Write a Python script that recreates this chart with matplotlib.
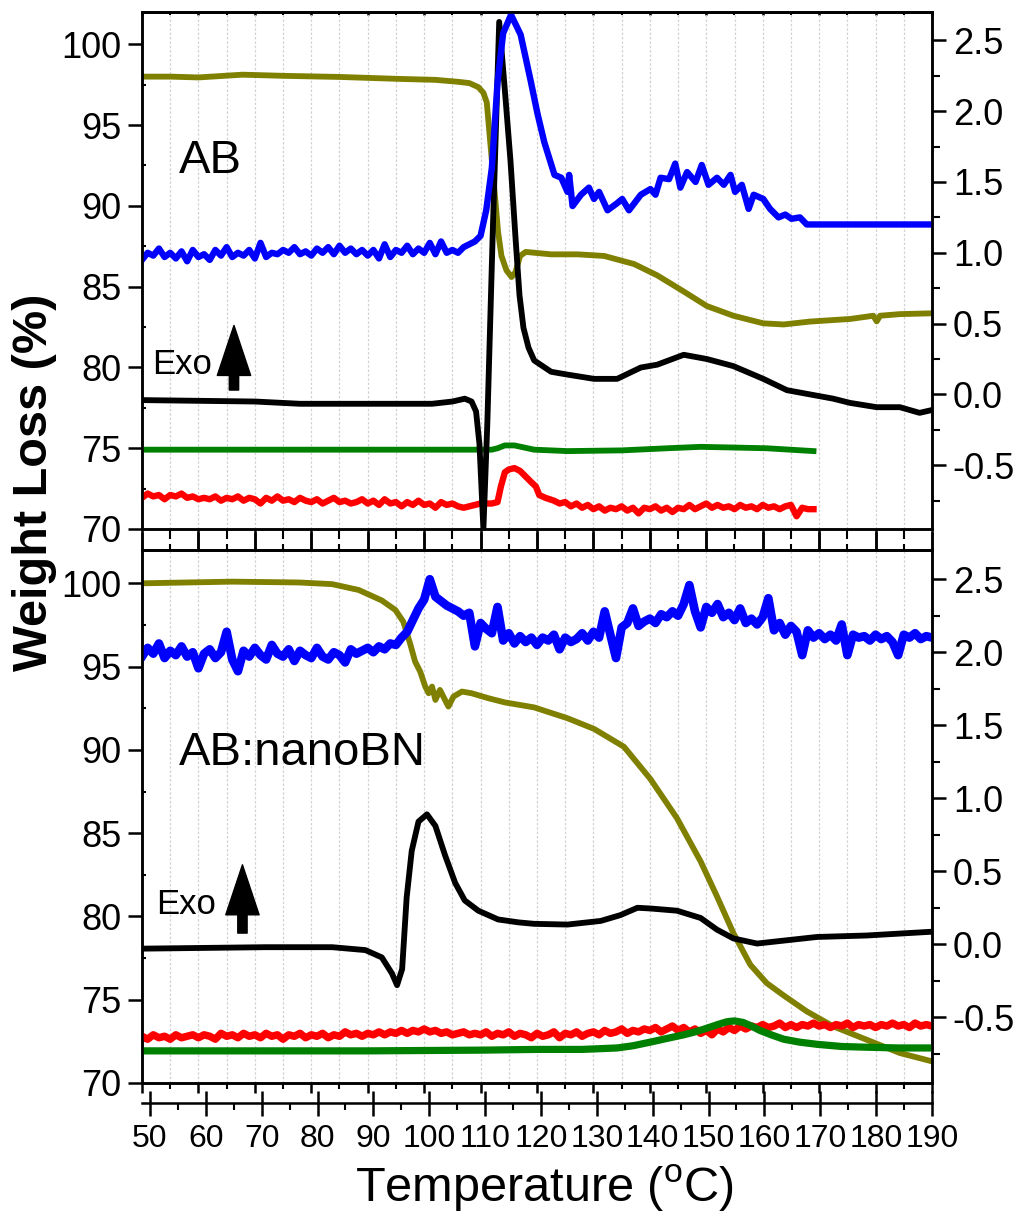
import numpy as np
import matplotlib
matplotlib.use('Agg')
import matplotlib.pyplot as plt
from matplotlib.ticker import MultipleLocator, FormatStrFormatter

plt.rcParams['font.family'] = ['Liberation Sans', 'DejaVu Sans']
plt.rcParams['mathtext.fontset'] = 'custom'
plt.rcParams['mathtext.rm'] = 'Liberation Sans'

OLIVE = '#808000'
BLUE = '#0000ff'
RED = '#ff0000'
GREEN = '#008000'

# ---------------- AB (top panel) ----------------
# weight loss (left axis, %)
ab_tg_x = [50, 55, 60, 67.8, 75, 85, 95.5, 102, 106, 108, 109.6, 110.5, 111.1, 112, 112.6, 113.1,
           113.7, 114.6, 115.5, 116.2, 117, 118, 122.5, 127.2, 131.9, 137.2, 141.3, 146, 150.1,
           154.8, 160.1, 163.7, 168.4, 175.5, 179.6, 180.2, 180.8, 184.3, 190]
ab_tg_y = [98.0, 98.0, 97.95, 98.12, 98.05, 97.98, 97.86, 97.8, 97.68, 97.6, 97.35, 97.0, 96.4, 92.8, 90.4, 88.4,
           86.9, 86.0, 85.6, 85.9, 86.9, 87.15, 87.0, 87.0, 86.9, 86.4, 85.7, 84.7, 83.8,
           83.2, 82.73, 82.66, 82.84, 83.0, 83.2, 82.85, 83.2, 83.3, 83.35]

# DSC (right axis)
ab_dsc_x = [50, 60, 70, 78, 90, 101.4, 105, 107.2, 108.4, 109.2, 109.8, 110.5, 111.2, 112.2, 113.3,
            114.3, 115.3, 116.2, 116.9, 117.6, 118.5, 119.5, 122.5, 125.4, 130.1, 134.2, 138.4, 141.3,
            146.0, 150.1, 154.8, 160.1, 164.3, 168.4, 172.5, 175.5, 180.2, 184.3, 187.8, 190]
ab_dsc_y = [-0.04, -0.045, -0.05, -0.066, -0.066, -0.066, -0.05, -0.03, -0.05, -0.12, -0.35, -0.95, -0.2, 1.2, 2.63,
            2.15, 1.65, 1.1, 0.7, 0.47, 0.33, 0.24, 0.16, 0.14, 0.11, 0.11, 0.19, 0.21,
            0.28, 0.25, 0.20, 0.11, 0.03, 0.0, -0.03, -0.06, -0.09, -0.09, -0.13, -0.11]

# blue trace (right axis): 1 degree steps 50..108, then hand-read points
ab_blue_base = [0.95, 1.00, 0.98, 1.03, 0.97, 1.00, 0.96, 1.01, 0.94, 1.02,
                0.97, 0.99, 0.95, 1.02, 0.98, 1.04, 0.97, 1.00, 0.98, 1.02,
                0.96, 1.07, 0.97, 1.00, 0.99, 1.02, 1.00, 1.04, 0.99, 1.01,
                0.98, 1.03, 1.00, 1.04, 0.99, 1.05, 1.00, 1.03, 0.99, 1.02,
                0.98, 1.02, 0.96, 1.06, 0.97, 1.02, 1.00, 1.05, 0.99, 1.03,
                1.00, 1.07, 0.99, 1.08, 1.00, 1.02, 1.00, 1.04, 1.06]
ab_blue_x2 = [109, 110, 111, 112, 113, 114, 115.4, 117.1, 118.9, 120.1, 121.3, 123.1, 124.3, 125.4,
              125.7, 126.3, 127.8, 129.2, 130.1, 131.0, 132.5, 134.2, 135.1, 136.3, 138.4, 140.1,
              141.0, 141.9, 143.4, 144.5, 145.4, 146.6, 148.1, 149.2, 150.4, 151.9, 153.1, 154.3,
              155.1, 156.3, 157.5, 158.4, 160.1, 161.3, 162.8, 164.0, 165.1, 166.6, 167.8, 190]
ab_blue_y2 = [1.08, 1.12, 1.30, 1.60, 2.20, 2.55, 2.68, 2.54, 2.21, 1.98, 1.78, 1.55, 1.53, 1.43,
              1.55, 1.33, 1.41, 1.46, 1.38, 1.43, 1.30, 1.35, 1.38, 1.30, 1.41, 1.45,
              1.41, 1.53, 1.52, 1.63, 1.46, 1.57, 1.50, 1.62, 1.48, 1.53, 1.48, 1.55,
              1.43, 1.48, 1.31, 1.41, 1.38, 1.31, 1.25, 1.27, 1.24, 1.25, 1.20, 1.20]

# red trace (right axis)
ab_red_base = [-0.73, -0.70, -0.72, -0.71, -0.74, -0.71, -0.72, -0.70, -0.73, -0.72,
               -0.74, -0.73, -0.74, -0.72, -0.75, -0.73, -0.74, -0.72, -0.75, -0.73,
               -0.74, -0.77, -0.73, -0.75, -0.72, -0.75, -0.74, -0.76, -0.73, -0.75,
               -0.76, -0.74, -0.77, -0.75, -0.73, -0.76, -0.75, -0.77, -0.76, -0.74,
               -0.77, -0.75, -0.78, -0.74, -0.77, -0.76, -0.79, -0.76, -0.78, -0.75,
               -0.78, -0.77, -0.80, -0.76, -0.78, -0.77, -0.79, -0.80, -0.79, -0.78,
               -0.77, -0.77]
ab_red_x2 = [112, 113, 113.6, 114.3, 115, 116, 117, 118, 119, 119.8, 120.4, 121.5, 123, 124]
ab_red_y2 = [-0.77, -0.76, -0.65, -0.55, -0.53, -0.52, -0.54, -0.58, -0.62, -0.65, -0.71, -0.73, -0.75, -0.77]
ab_red_tail = [-0.76, -0.79, -0.77, -0.80, -0.78, -0.81, -0.79, -0.82, -0.80, -0.81,
               -0.79, -0.82, -0.80, -0.84, -0.80, -0.81, -0.79, -0.82, -0.80, -0.83,
               -0.80, -0.81, -0.78, -0.81, -0.79, -0.77, -0.80, -0.78, -0.80, -0.79,
               -0.81, -0.78, -0.80, -0.79, -0.81, -0.78, -0.80, -0.79, -0.81, -0.79,
               -0.78, -0.86, -0.80, -0.81, -0.81]

# green trace (right axis)
ab_green_x = [50, 80, 112, 113, 114.3, 116, 119.5, 125.4, 135, 143.1, 149, 155, 160.7, 169]
ab_green_y = [-0.39, -0.39, -0.39, -0.38, -0.36, -0.36, -0.39, -0.40, -0.395, -0.38, -0.37, -0.375, -0.38, -0.40]

# ---------------- AB:nanoBN (bottom panel) ----------------
bn_tg_x = [50, 66, 77.8, 83.7, 88.4, 92.5, 94.9, 96.3, 97.5, 98.4, 99.3, 100.2, 100.8, 101.4, 102.0,
           102.8, 103.7, 104.3, 105.2, 106.7, 108.4, 111.4, 114.3, 119.5, 125.4, 130.1, 135.4, 140.1,
           144.8, 149.0, 151.9, 154.8, 157.8, 160.7, 163.7, 167.8, 172.5, 178.4, 184.3, 190]
bn_tg_y = [100.0, 100.1, 100.05, 99.95, 99.6, 98.97, 98.4, 97.7, 96.4, 95.3, 94.7, 93.8, 93.4, 93.8, 93.0,
           93.6, 93.0, 92.6, 93.2, 93.5, 93.4, 93.1, 92.85, 92.55, 91.9, 91.26, 90.19, 88.25,
           85.9, 83.3, 81.2, 79.0, 77.1, 76.0, 75.26, 74.3, 73.4, 72.6, 71.8, 71.3]

bn_dsc_x = [50, 71.9, 83.7, 89.6, 92.5, 94.3, 95.2, 96.1, 96.9, 97.8, 99.0, 100.5, 102.0, 103.7, 105.5,
            107.2, 109.6, 113.1, 116.7, 119.5, 125.4, 131.3, 134.8, 137.8, 140.1, 144.8, 149.0, 151.9,
            154.8, 159.0, 163.7, 169.6, 178.4, 190]
bn_dsc_y = [-0.03, -0.02, -0.02, -0.04, -0.09, -0.20, -0.28, -0.17, 0.32, 0.64, 0.84, 0.89, 0.81, 0.61, 0.42,
            0.30, 0.23, 0.17, 0.15, 0.14, 0.135, 0.16, 0.20, 0.25, 0.245, 0.23, 0.18, 0.10,
            0.04, 0.005, 0.025, 0.05, 0.06, 0.086]

# blue and red traces, 1 degree steps 50..190
bn_blue = [1.97, 2.03, 1.99, 2.06, 1.96, 2.01, 1.98, 2.04, 1.97, 2.00,
           1.89, 1.99, 2.02, 1.96, 2.00, 2.14, 1.95, 1.87, 2.01, 1.97,
           2.03, 1.98, 1.95, 2.05, 1.99, 1.97, 2.02, 1.94, 2.01, 1.98,
           1.96, 2.03, 1.97, 1.95, 2.00, 1.98, 1.93, 2.02, 1.99, 2.01,
           2.03, 2.00, 2.04, 2.02, 2.06, 2.05, 2.10, 2.14, 2.22, 2.30,
           2.36, 2.50, 2.38, 2.35, 2.32, 2.30, 2.28, 2.25, 2.27, 2.04,
           2.20, 2.16, 2.13, 2.31, 2.08, 2.13, 2.06, 2.11, 2.07, 2.10,
           2.05, 2.10, 2.08, 2.12, 2.02, 2.10, 2.07, 2.09, 2.13, 2.08,
           2.14, 2.10, 2.28, 2.12, 1.96, 2.17, 2.20, 2.30, 2.18, 2.21,
           2.23, 2.20, 2.26, 2.24, 2.28, 2.25, 2.33, 2.46, 2.28, 2.17,
           2.31, 2.27, 2.33, 2.24, 2.27, 2.22, 2.30, 2.20, 2.23, 2.19,
           2.24, 2.37, 2.15, 2.20, 2.12, 2.18, 2.14, 1.98, 2.15, 2.10,
           2.13, 2.09, 2.12, 2.08, 2.19, 1.98, 2.12, 2.10, 2.11, 2.08,
           2.12, 2.09, 2.11, 2.07, 1.98, 2.12, 2.10, 2.13, 2.09, 2.11,
           2.10]
bn_red = [-0.63, -0.65, -0.62, -0.64, -0.63, -0.65, -0.62, -0.64, -0.63, -0.62,
          -0.64, -0.62, -0.63, -0.65, -0.61, -0.63, -0.62, -0.64, -0.61, -0.63,
          -0.62, -0.64, -0.61, -0.63, -0.62, -0.65, -0.62, -0.63, -0.61, -0.64,
          -0.62, -0.63, -0.61, -0.64, -0.62, -0.63, -0.60, -0.62, -0.61, -0.63,
          -0.61, -0.62, -0.60, -0.62, -0.60, -0.61, -0.59, -0.61, -0.59, -0.60,
          -0.58, -0.60, -0.59, -0.61, -0.60, -0.62, -0.61, -0.60, -0.62, -0.61,
          -0.62, -0.60, -0.63, -0.61, -0.62, -0.60, -0.63, -0.61, -0.62, -0.64,
          -0.61, -0.63, -0.62, -0.60, -0.64, -0.61, -0.62, -0.60, -0.63, -0.61,
          -0.60, -0.62, -0.59, -0.61, -0.60, -0.58, -0.61, -0.59, -0.60, -0.58,
          -0.59, -0.57, -0.60, -0.58, -0.56, -0.59, -0.57, -0.60, -0.58, -0.61,
          -0.59, -0.62, -0.58, -0.60, -0.57, -0.59, -0.56, -0.58, -0.56, -0.57,
          -0.55, -0.57, -0.56, -0.54, -0.57, -0.55, -0.57, -0.55, -0.56, -0.54,
          -0.56, -0.55, -0.57, -0.55, -0.56, -0.54, -0.57, -0.55, -0.56, -0.55,
          -0.57, -0.55, -0.56, -0.54, -0.56, -0.55, -0.57, -0.54, -0.56, -0.55,
          -0.56]
bn_green_x = [50, 70, 90, 110, 120, 128, 134.2, 137, 140.1, 143, 146, 148, 150.1, 152, 153.7, 155,
              156.5, 158, 159.5, 161.5, 163.7, 166.5, 169.6, 174, 178.4, 184, 190]
bn_green_y = [-0.73, -0.73, -0.73, -0.725, -0.72, -0.72, -0.71, -0.695, -0.67, -0.645, -0.62, -0.60,
              -0.575, -0.55, -0.53, -0.525, -0.535, -0.56, -0.59, -0.62, -0.65, -0.67, -0.685,
              -0.70, -0.705, -0.71, -0.71]

grid_1deg = np.arange(50, 191, 1)

W, H = 1019.0, 1219.0


def box(l, t, r, b):
    return [l / W, 1 - b / H, (r - l) / W, (b - t) / H]


def style_panel(ax, rax, top_len, top_dir, bot_len, bot_minor, top_minor):
    ax.set_xlim(50, 190)
    ax.set_ylim(70, 102)
    rax.set_ylim(-0.95, 2.7)
    ax.xaxis.set_major_locator(MultipleLocator(10))
    ax.xaxis.set_minor_locator(MultipleLocator(5))
    ax.yaxis.set_major_locator(MultipleLocator(5))
    ax.yaxis.set_minor_locator(MultipleLocator(2.5))
    rax.yaxis.set_major_locator(MultipleLocator(0.5))
    rax.yaxis.set_minor_locator(MultipleLocator(0.25))
    rax.yaxis.set_major_formatter(FormatStrFormatter('%.1f'))
    ax.grid(True, axis='x', which='both', color='#d2d2d2', lw=0.9, ls=(0, (2, 1.5)))
    ax.set_axisbelow(True)
    ax.tick_params(axis='x', which='major', direction='out', length=bot_len, width=1.8,
                   labelbottom=False, top=False)
    ax.tick_params(axis='x', which='minor', direction='out', length=bot_minor, width=1.5, top=False)
    ax.tick_params(axis='y', which='major', direction='out', length=10, width=1.8,
                   labelsize=26, pad=5)
    ax.tick_params(axis='y', which='minor', direction='in', length=3, width=1.5)
    rax.tick_params(axis='y', which='major', direction='out', length=10, width=1.8,
                    labelsize=26, pad=5)
    rax.tick_params(axis='y', which='minor', direction='out', length=5.5, width=1.5)
    sec = ax.secondary_xaxis('top')
    sec.xaxis.set_major_locator(MultipleLocator(10))
    sec.xaxis.set_minor_locator(MultipleLocator(5))
    sec.tick_params(axis='x', which='major', direction=top_dir, length=top_len, width=1.8, labeltop=False)
    sec.tick_params(axis='x', which='minor', direction=top_dir, length=top_minor, width=1.5)
    for a in (ax, rax, sec):
        for s in a.spines.values():
            s.set_linewidth(1.8)


fig = plt.figure(figsize=(10.19, 12.19), dpi=100)

ax_top = fig.add_axes(box(142, 12, 932, 529))
r_top = ax_top.twinx()
ax_bot = fig.add_axes(box(142, 550, 932, 1083))
r_bot = ax_bot.twinx()

style_panel(ax_top, r_top, 2.5, 'in', 15, 7, 2.5)
style_panel(ax_bot, r_bot, 13, 'out', 7.5, 4, 4)

LW = 4.2
# top panel
ax_top.plot(ab_tg_x, ab_tg_y, color=OLIVE, lw=LW)
r_top.plot(ab_green_x, ab_green_y, color=GREEN, lw=LW)
r_top.plot(list(grid_1deg[:62]) + ab_red_x2 + list(grid_1deg[75:120]),
           ab_red_base + ab_red_y2 + ab_red_tail, color=RED, lw=LW + 0.4)
r_top.plot(ab_dsc_x, ab_dsc_y, color='black', lw=LW)
r_top.plot(list(grid_1deg[:59]) + ab_blue_x2, ab_blue_base + ab_blue_y2, color=BLUE, lw=LW + 0.4)

# bottom panel
ax_bot.plot(bn_tg_x, bn_tg_y, color=OLIVE, lw=LW)
r_bot.plot(grid_1deg, bn_red, color=RED, lw=LW + 1.2)
r_bot.plot(bn_green_x, bn_green_y, color=GREEN, lw=LW + 1.0)
r_bot.plot(bn_dsc_x, bn_dsc_y, color='black', lw=LW)
r_bot.plot(grid_1deg, bn_blue, color=BLUE, lw=LW + 2.0)

for r in (r_top, r_bot):
    r.set_xlim(50, 190)

# annotations
ax_top.text(56.6, 92.8, 'AB', fontsize=34, ha='left', va='center')
ax_bot.text(56.6, 89.8, 'AB:nanoBN', fontsize=34, ha='left', va='center')
ax_top.text(51.8, 80.2, 'Exo', fontsize=25, ha='left', va='center')
ax_bot.text(52.5, 80.7, 'Exo', fontsize=25, ha='left', va='center')
arrow_style = dict(arrowstyle='simple,head_length=1.5,head_width=1.0,tail_width=0.28',
                   color='black', mutation_scale=24, shrinkA=0, shrinkB=0)
ax_top.annotate('', xy=(66.3, 82.6), xytext=(66.3, 78.6), arrowprops=arrow_style)
ax_bot.annotate('', xy=(67.8, 83.1), xytext=(67.8, 79.0), arrowprops=arrow_style)

# separate labelled temperature axis below the panels
axx = fig.add_axes(box(142, 1095, 932, 1103))
for s in ['top', 'left', 'right']:
    axx.spines[s].set_visible(False)
axx.spines['bottom'].set_linewidth(1.8)
axx.patch.set_visible(False)
axx.set_yticks([])
axx.set_xlim(48.57, 190)
axx.xaxis.set_major_locator(MultipleLocator(10))
axx.xaxis.set_minor_locator(MultipleLocator(5))
axx.tick_params(axis='x', which='major', direction='inout', length=18, width=1.8,
                labelsize=23, pad=6)
axx.tick_params(axis='x', which='minor', direction='out', length=5, width=1.5)

fig.text(35 / W, 1 - 482 / H, 'Weight Loss (%)', rotation=90, fontsize=35,
         fontweight='bold', ha='center', va='center')
fig.text(545 / W, 1 - 1188 / H, r'Temperature ($^{\mathrm{o}}$C)', fontsize=35,
         ha='center', va='center')

fig.savefig('out.png', dpi=100)
